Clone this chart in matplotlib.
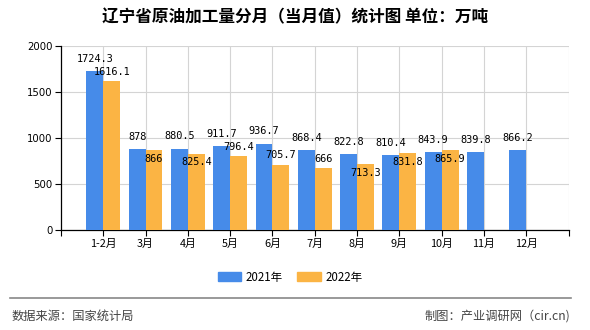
"""
辽宁省原油加工量分月（当月值）统计图
"""
import matplotlib
matplotlib.use('Agg')
import matplotlib.pyplot as plt
from matplotlib.lines import Line2D
from matplotlib.patches import Patch
import numpy as np

# 设置matplotlib字体
plt.rcParams['font.family'] = ['Noto Sans CJK SC', 'DejaVu Sans']
plt.rcParams['axes.unicode_minus'] = False

# 数据
months = ['1-2月', '3月', '4月', '5月', '6月', '7月', '8月', '9月', '10月', '11月', '12月']
values_2021 = [1724.3, 878, 880.5, 911.7, 936.7, 868.4, 822.8, 810.4, 843.9, 839.8, 866.2]
values_2022 = [1616.1, 866, 825.4, 796.4, 705.7, 666, 713.3, 831.8, 865.9]
series_names = ['2021年', '2022年']

# 标签位置（2022年：上方 / 下方）
label_above_2022 = [True, False, False, True, True, True, False, False, False]

BLUE = '#468be9'
ORANGE = '#fbb444'

fig = plt.figure(figsize=(5.9, 3.3), dpi=100)
ax = fig.add_axes([61 / 590, 100.5 / 330, 507.5 / 590, 183.5 / 330])

x = np.arange(len(months))
w = 0.4
bars1 = ax.bar(x[:len(values_2021)] - w / 2, values_2021, w, color=BLUE, zorder=3)
bars2 = ax.bar(x[:len(values_2022)] + w / 2, values_2022, w, color=ORANGE, zorder=3)

label_font = dict(family='DejaVu Sans Mono', fontsize=7.4, color='black')
for b, v in zip(bars1, values_2021):
    ax.annotate(f'{v:g}', (b.get_x() + b.get_width() / 2, v), xytext=(0, 8.8),
                textcoords='offset points', ha='center', va='center', zorder=5, **label_font)
for b, v, up in zip(bars2, values_2022, label_above_2022):
    dy = 6.8 if up else -6.2
    ax.annotate(f'{v:g}', (b.get_x() + b.get_width() / 2, v), xytext=(0, dy),
                textcoords='offset points', ha='center', va='center', zorder=5, **label_font)

ax.set_xlim(-1, len(months))
ax.set_ylim(0, 2000)
ax.set_yticks([0, 500, 1000, 1500, 2000])
ax.set_xticks(x)
ax.set_xticklabels(months, fontsize=7.8)
ax.set_xticks([-1, len(months)], minor=True)
ax.tick_params(axis='x', which='both', length=4, width=0.8, pad=3, color='black')
ax.tick_params(axis='y', length=4, width=0.8, labelsize=7.3, pad=2)
for lbl in ax.get_yticklabels():
    lbl.set_family('DejaVu Sans')

# 网格
ax.grid(True, axis='y', color='#d4d4d4', linewidth=0.8, zorder=0)
for xi in list(x) + [len(months)]:
    ax.axvline(xi, color='#d4d4d4', linewidth=0.8, zorder=0)
ax.set_axisbelow(True)

for s in ['top', 'right']:
    ax.spines[s].set_visible(False)
ax.spines['left'].set_linewidth(0.9)
ax.spines['bottom'].set_linewidth(0.9)

# 标题
fig.text(0.5, 1 - 17 / 330, '辽宁省原油加工量分月（当月值）统计图 单位：万吨',
         ha='center', va='center', fontsize=12, fontweight='bold')

# 图例
handles = [Patch(color=BLUE), Patch(color=ORANGE)]
fig.legend(handles, series_names, loc='center', bbox_to_anchor=(290 / 590, 1 - 277 / 330),
           ncol=2, frameon=False, fontsize=8.3, handlelength=2.0, handleheight=0.75,
           handletextpad=0.4, columnspacing=1.3)

# 分隔线与来源
fig.add_artist(Line2D([10 / 590, 571 / 590], [1 - 298 / 330, 1 - 298 / 330],
                      color='#888888', linewidth=1.2, transform=fig.transFigure))
fig.text(12 / 590, 1 - 316 / 330, '数据来源：国家统计局', ha='left', va='center',
         fontsize=8.8, color='#444444')
fig.text(570 / 590, 1 - 316 / 330, '制图：产业调研网（cir.cn)', ha='right', va='center',
         fontsize=8.8, color='#444444')

fig.savefig('out.png', dpi=100)
plt.close(fig)
